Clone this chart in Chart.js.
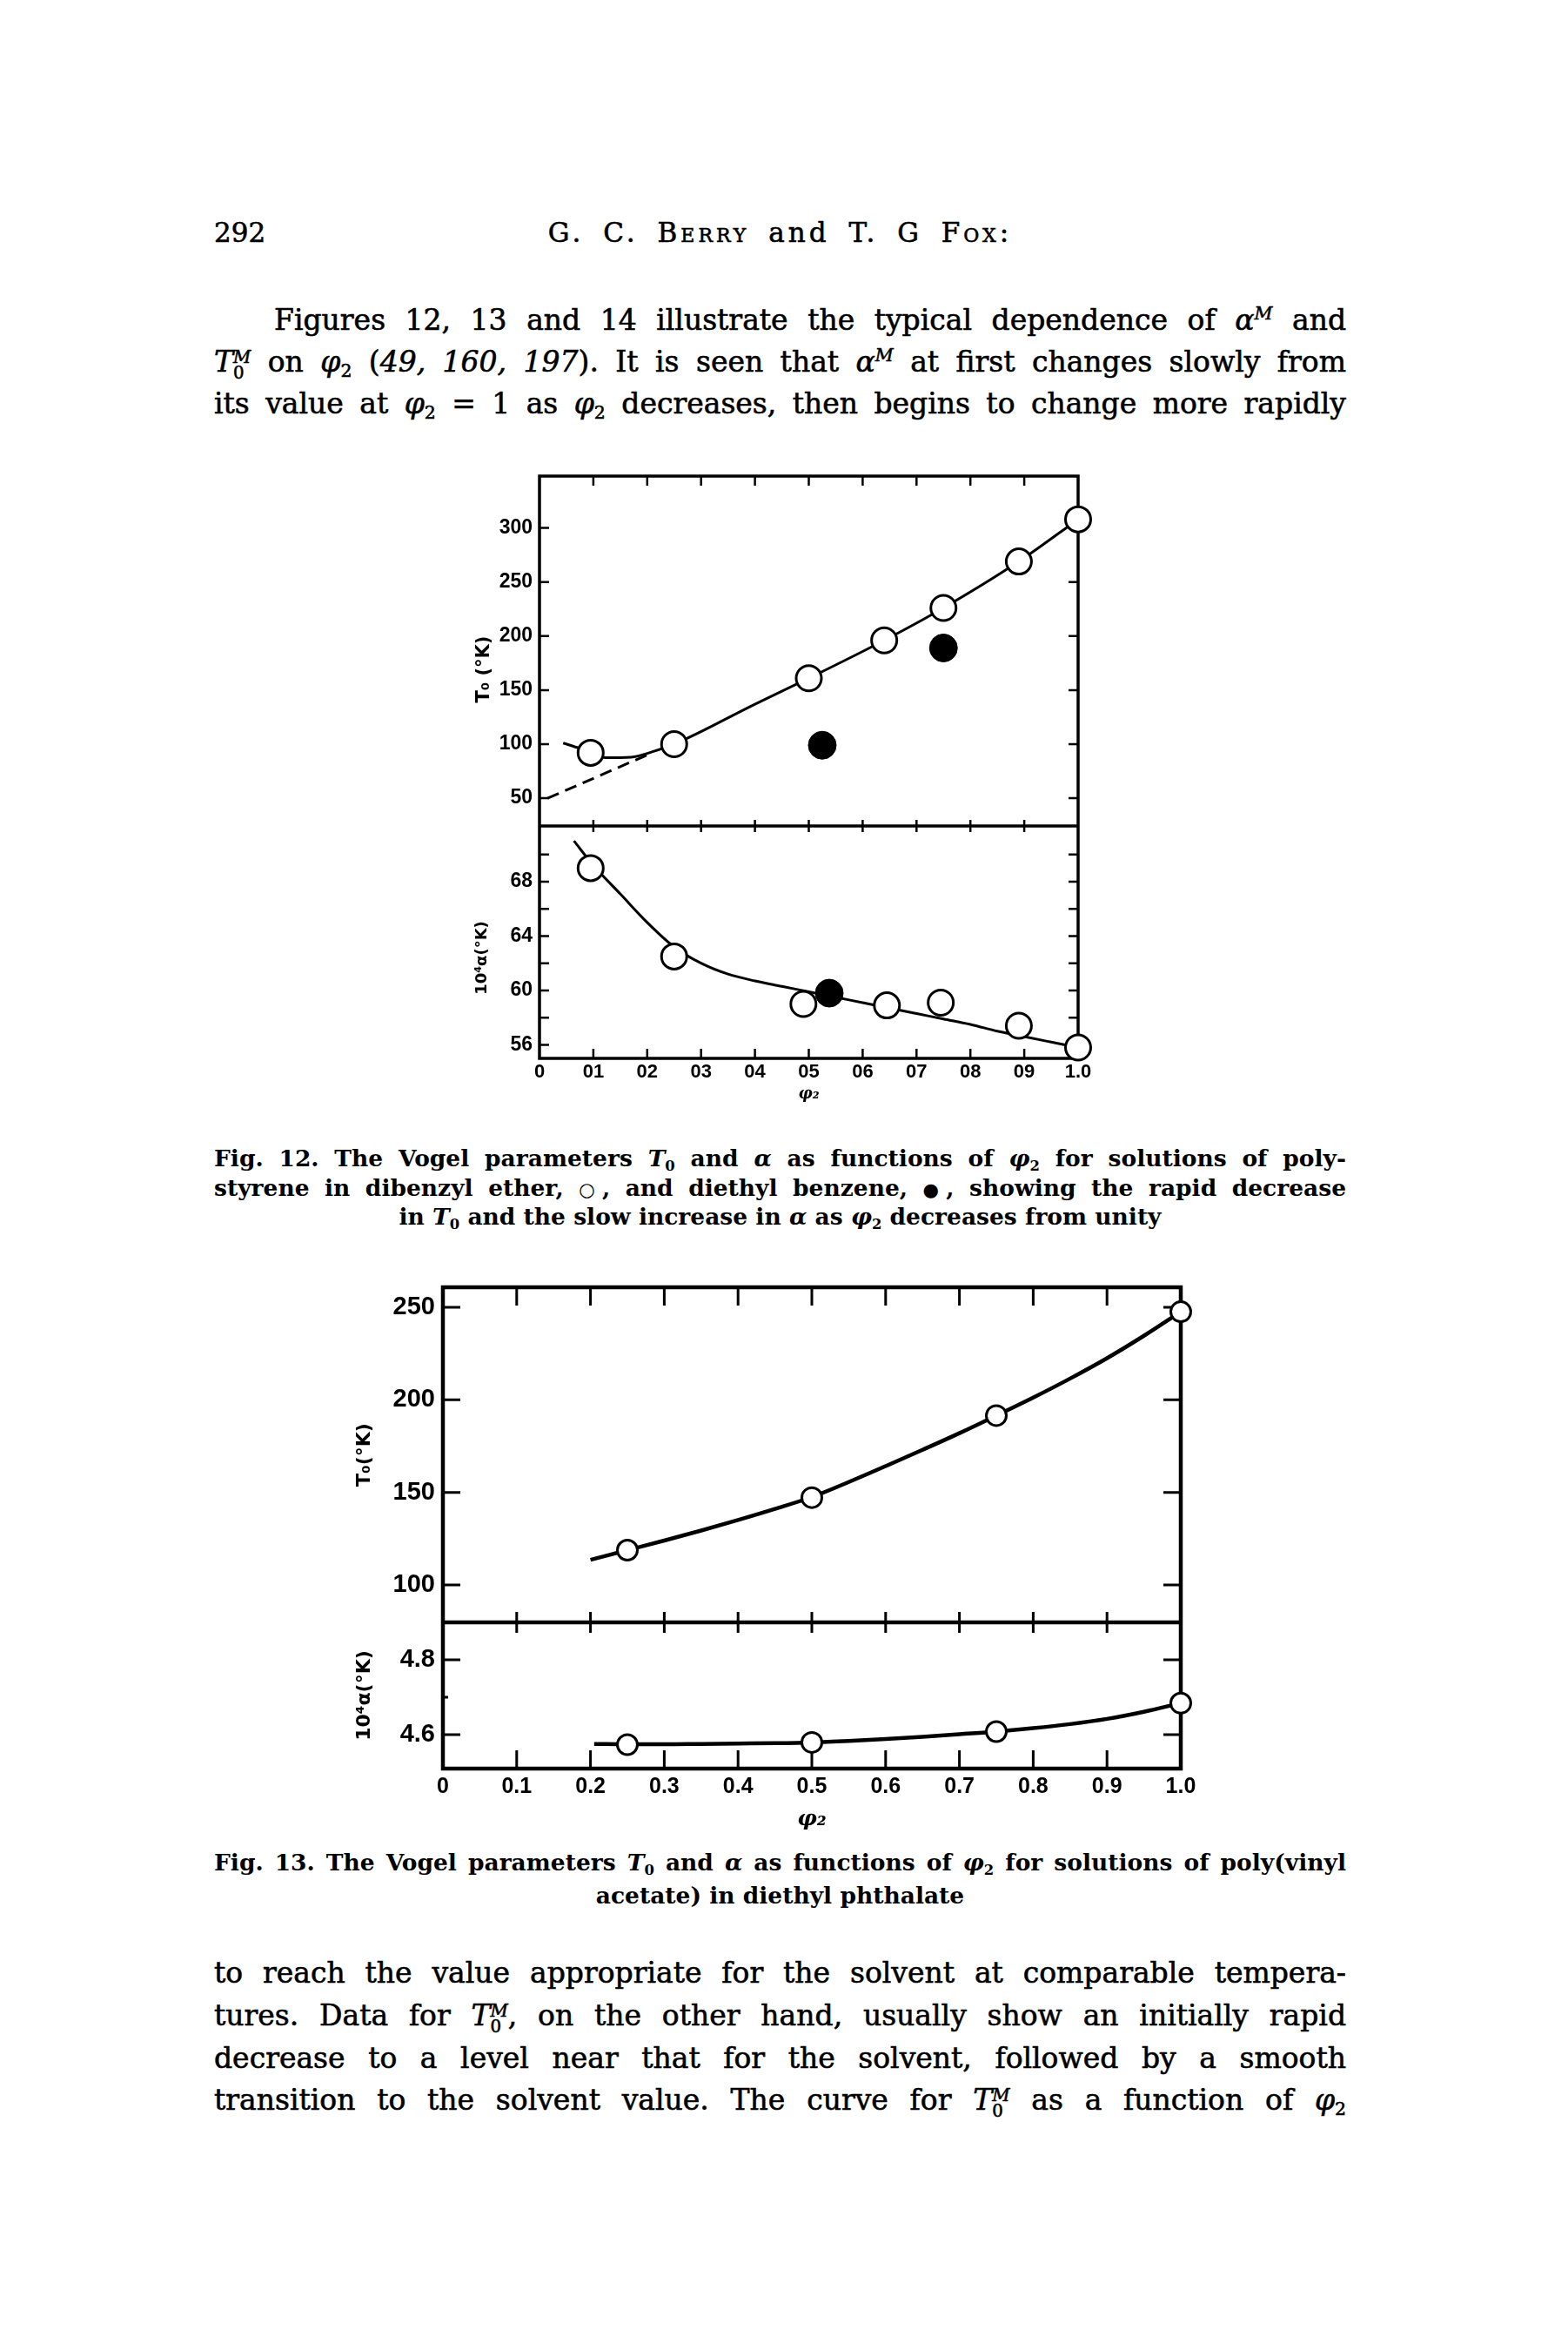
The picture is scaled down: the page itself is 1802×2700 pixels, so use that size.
<!DOCTYPE html>
<html>
<head>
<meta charset="utf-8">
<script src="https://cdn.jsdelivr.net/npm/chart.js@4.4.1/dist/chart.umd.min.js"></script>
<style>
  html, body { margin: 0; padding: 0; background: #fff; }
  #page { position: relative; width: 1802px; height: 2700px; overflow: hidden; color: #000; font-family: 'DejaVu Serif', serif; }
  .ln { position: absolute; left: 246px; width: 1301px; font-size: 33px; line-height: 42px; height: 42px; text-align: justify; text-align-last: justify; -webkit-text-stroke: 0.6px #000; }
  .cap { font-size: 26.5px; font-weight: bold; line-height: 34px; height: 34px; -webkit-text-stroke: 0; }
  .ctr { text-align: center; text-align-last: center; }
  .hdr { letter-spacing: 4px; word-spacing: 8px; }
  .sc { font-variant: small-caps; }
  .sym { font-family: 'DejaVu Sans', sans-serif; font-size: 0.8em; }
  sub { font-size: 0.62em; vertical-align: -0.3em; line-height: 0; }
  sup { font-size: 0.62em; vertical-align: 0.6em; line-height: 0; }
  .stk { display: inline-block; vertical-align: -0.42em; font-size: 0.6em; line-height: 0.95em; text-align: left; }
  .stk span { display: block; }
  canvas { position: absolute; }
</style>
</head>
<body>
<div id="page">
  <div class="ln" style="top:246px; font-size:31px; text-align:left; text-align-last:left;">292</div>
  <div class="ln ctr hdr" style="top:246px; font-size:31px;">G. C. B<span class="sc">erry</span> and T. G F<span class="sc">ox</span>:</div>

  <div class="ln" style="top:347px; left:315px; width:1232px;">Figures 12, 13 and 14 illustrate the typical dependence of <i>α</i><sup><i>M</i></sup> and</div>
  <div class="ln" style="top:395px;"><i>T</i><span class="stk"><span><i>M</i></span><span>0</span></span> on <i>φ</i><sub>2</sub> (<i>49, 160, 197</i>). It is seen that <i>α</i><sup><i>M</i></sup> at first changes slowly from</div>
  <div class="ln" style="top:443px;">its value at <i>φ</i><sub>2</sub> = 1 as <i>φ</i><sub>2</sub> decreases, then begins to change more rapidly</div>

  <canvas id="fig12" width="820" height="770" style="left:480px; top:520px; width:820px; height:770px;"></canvas>

  <div class="ln cap" style="top:1314px;">Fig. 12. The Vogel parameters <i>T</i><sub>0</sub> and <i>α</i> as functions of <i>φ</i><sub>2</sub> for solutions of poly-</div>
  <div class="ln cap" style="top:1348px;">styrene in dibenzyl ether, <span class="sym">○</span>, and diethyl benzene, <span class="sym">●</span>, showing the rapid decrease</div>
  <div class="ln cap ctr" style="top:1381px;">in <i>T</i><sub>0</sub> and the slow increase in <i>α</i> as <i>φ</i><sub>2</sub> decreases from unity</div>

  <canvas id="fig13" width="1040" height="660" style="left:360px; top:1450px; width:1040px; height:660px;"></canvas>

  <div class="ln cap" style="top:2123px;">Fig. 13. The Vogel parameters <i>T</i><sub>0</sub> and <i>α</i> as functions of <i>φ</i><sub>2</sub> for solutions of poly(vinyl</div>
  <div class="ln cap ctr" style="top:2161px;">acetate) in diethyl phthalate</div>

  <div class="ln" style="top:2246px;">to reach the value appropriate for the solvent at comparable tempera-</div>
  <div class="ln" style="top:2295px;">tures. Data for <i>T</i><span class="stk"><span><i>M</i></span><span>0</span></span>, on the other hand, usually show an initially rapid</div>
  <div class="ln" style="top:2344px;">decrease to a level near that for the solvent, followed by a smooth</div>
  <div class="ln" style="top:2392px;">transition to the solvent value. The curve for <i>T</i><span class="stk"><span><i>M</i></span><span>0</span></span> as a function of <i>φ</i><sub>2</sub></div>
</div>

<script>
// Fig. 12: polystyrene in dibenzyl ether (open) and diethyl benzene (filled)
const f12OpenPhi = [0.095, 0.25, 0.5, 0.64, 0.75, 0.89, 1.0];
const f12OpenT0 = [92, 100, 161, 196, 226, 269, 308];
const f12FilledPhi = [0.525, 0.75];
const f12FilledT0 = [99, 189];
const f12CurvePhi = [0.044, 0.075, 0.122, 0.17, 0.21, 0.25, 0.4, 0.5, 0.64, 0.75, 0.89, 1.0];
const f12CurveT0 = [101, 96, 87.5, 88, 93, 100, 137, 161, 196, 226, 269, 308];
const f12DashPhi = [0.015, 0.2];
const f12DashT0 = [50, 90];

const f12AlphaOpenPhi = [0.095, 0.25, 0.49, 0.645, 0.745, 0.89, 1.0];
const f12AlphaOpen = [69.0, 62.5, 59.0, 58.9, 59.1, 57.4, 55.8];
const f12AlphaFilledPhi = [0.538];
const f12AlphaFilled = [59.8];
const f12AlphaCurvePhi = [0.064, 0.1, 0.15, 0.2, 0.25, 0.3, 0.35, 0.4, 0.45, 0.5, 0.55, 0.6, 0.65, 0.7, 0.75, 0.8, 0.85, 0.9, 0.95, 1.0];
const f12AlphaCurve = [71.0, 69.2, 67.1, 65.0, 63.2, 62.0, 61.2, 60.7, 60.3, 59.9, 59.5, 59.1, 58.7, 58.3, 57.9, 57.5, 57.0, 56.6, 56.2, 55.8];

const f12XTicks = [0, 0.1, 0.2, 0.3, 0.4, 0.5, 0.6, 0.7, 0.8, 0.9, 1.0];
const f12XLabels = ["0", "01", "02", "03", "04", "05", "06", "07", "08", "09", "1.0"];
const f12T0Ticks = [50, 100, 150, 200, 250, 300];
const f12T0Labels = ["50", "100", "150", "200", "250", "300"];
const f12AlphaTicks = [56, 60, 64, 68];
const f12AlphaLabels = ["56", "60", "64", "68"];
const f12AlphaMarks = [56, 58, 60, 62, 64, 66, 68, 70];

// Fig. 13: poly(vinyl acetate) in diethyl phthalate
const f13Phi = [0.25, 0.5, 0.75, 1.0];
const f13T0 = [118.8, 147.2, 191.5, 247.6];
const f13Alpha = [4.573, 4.579, 4.608, 4.684];
const f13CurvePhi = [0.2, 0.25, 0.3, 0.35, 0.4, 0.45, 0.5, 0.55, 0.6, 0.65, 0.7, 0.75, 0.8, 0.85, 0.9, 0.95, 1.0];
const f13CurveT0 = [113.6, 118.8, 124.0, 129.4, 135.1, 141.1, 147.5, 155.6, 164.2, 173.0, 182.0, 191.5, 201.2, 211.5, 222.5, 234.6, 247.6];
const f13AlphaCurvePhi = [0.205, 0.25, 0.3, 0.35, 0.4, 0.45, 0.5, 0.55, 0.6, 0.65, 0.7, 0.75, 0.8, 0.85, 0.9, 0.95, 1.0];
const f13AlphaCurve = [4.575, 4.574, 4.574, 4.575, 4.576, 4.577, 4.579, 4.583, 4.588, 4.594, 4.601, 4.608, 4.617, 4.628, 4.642, 4.661, 4.684];

const f13XTicks = [0, 0.1, 0.2, 0.3, 0.4, 0.5, 0.6, 0.7, 0.8, 0.9, 1.0];
const f13XLabels = ["0", "0.1", "0.2", "0.3", "0.4", "0.5", "0.6", "0.7", "0.8", "0.9", "1.0"];
const f13T0Ticks = [100, 150, 200, 250];
const f13T0Labels = ["100", "150", "200", "250"];
const f13AlphaTicks = [4.6, 4.8];
const f13AlphaLabels = ["4.6", "4.8"];
const f13AlphaMinor = [4.7];

const innerMarks = [0.1, 0.2, 0.3, 0.4, 0.5, 0.6, 0.7, 0.8, 0.9];

function pts(xs, ys) {
  return xs.map((x, i) => ({ x: x, y: ys[i] }));
}

// frame, panel divider and the inward tick marks, placed with the chart's scales
function frameTicks(spec) {
  return {
    id: 'frameTicks',
    beforeDatasetsDraw(chart) {
      const ctx = chart.ctx;
      const a = chart.chartArea;
      const x = chart.scales.x, top = chart.scales.yTop, bot = chart.scales.yBot;
      const mid = top.bottom;
      ctx.save();
      ctx.strokeStyle = '#000';
      ctx.lineWidth = spec.frameWidth;
      ctx.strokeRect(a.left, a.top, a.right - a.left, a.bottom - a.top);
      ctx.beginPath();
      ctx.moveTo(a.left, mid);
      ctx.lineTo(a.right, mid);
      ctx.stroke();

      ctx.lineWidth = spec.tickWidth;
      ctx.beginPath();
      innerMarks.forEach(v => {
        const px = x.getPixelForValue(v);
        ctx.moveTo(px, a.top); ctx.lineTo(px, a.top + spec.edgeLen);
        ctx.moveTo(px, mid - spec.midLen); ctx.lineTo(px, mid + spec.midLen);
        ctx.moveTo(px, a.bottom); ctx.lineTo(px, a.bottom - spec.edgeLen);
      });
      const side = (scale, marks, len) => marks.forEach(v => {
        const py = scale.getPixelForValue(v);
        ctx.moveTo(a.left, py); ctx.lineTo(a.left + len, py);
        ctx.moveTo(a.right, py); ctx.lineTo(a.right - len, py);
      });
      side(top, spec.topMarks, spec.sideLen);
      side(bot, spec.botMarks, spec.sideLen);
      if (spec.botMinor) side(bot, spec.botMinor, spec.minorLen);
      ctx.stroke();
      ctx.restore();
    }
  };
}

function yScale(f, which) {
  const p = f[which];
  return {
    type: 'linear',
    axis: 'y',
    position: 'left',
    stack: 'panels',
    stackWeight: p.weight,
    weight: which === 'top' ? 1 : 0,
    min: p.min,
    max: p.max,
    grid: { display: false, drawTicks: false },
    border: { display: false },
    afterBuildTicks: s => { s.ticks = p.ticks.map(v => ({ value: v })); },
    afterFit: s => { s.width = f.yWidth; },
    ticks: {
      autoSkip: false,
      padding: f.yPad,
      color: '#000',
      font: f.yFont,
      callback: (v, i) => p.labels[i]
    },
    title: {
      display: true,
      text: p.title,
      color: '#000',
      font: p.titleFont || f.yTitleFont,
      padding: { top: f.yTitlePad, bottom: 0 }
    }
  };
}

function makeFigure(id, f) {
  const ctx = document.getElementById(id).getContext('2d');
  return new Chart(ctx, {
    type: 'scatter',
    data: { datasets: f.datasets },
    options: {
      responsive: false,
      animation: false,
      layout: { padding: f.padding },
      plugins: { legend: { display: false }, tooltip: { enabled: false } },
      scales: {
        x: {
          type: 'linear',
          position: 'bottom',
          min: 0,
          max: 1,
          grid: { display: false, drawTicks: false },
          border: { display: false },
          afterBuildTicks: s => { s.ticks = f.xTicks.map(v => ({ value: v })); },
          afterFit: s => { s.height = f.xHeight; },
          ticks: {
            autoSkip: false,
            maxRotation: 0,
            padding: f.xPad,
            color: '#000',
            font: f.xFont,
            callback: (v, i) => f.xLabels[i]
          },
          title: {
            display: true,
            text: 'φ₂',
            color: '#000',
            font: f.phiFont,
            padding: { top: 0, bottom: f.phiPad }
          }
        },
        yTop: yScale(f, 'top'),
        yBot: yScale(f, 'bot')
      }
    },
    plugins: [frameTicks(f.frame)]
  });
}

function openPts(data, axis, r, bw) {
  return { data: data, yAxisID: axis, showLine: false, clip: false, pointRadius: r, pointBorderWidth: bw,
           pointBackgroundColor: '#fff', pointBorderColor: '#000' };
}
function filledPts(data, axis, r) {
  return { data: data, yAxisID: axis, showLine: false, clip: false, pointRadius: r, pointBorderWidth: 1,
           pointBackgroundColor: '#000', pointBorderColor: '#000' };
}
function curve(data, axis, w, dash) {
  return { data: data, yAxisID: axis, showLine: true, clip: false, pointRadius: 0, borderColor: '#000',
           borderWidth: w, borderDash: dash || [], cubicInterpolationMode: 'monotone', fill: false };
}

document.addEventListener("DOMContentLoaded", () => {
  const sansBold = size => ({ family: 'Liberation Sans', size: size, weight: 'bold' });

  makeFigure('fig12', {
    padding: { top: 27, right: 61, bottom: 0, left: 0 },
    yWidth: 140, yPad: 8, yFont: sansBold(23),
    yTitleFont: { family: 'DejaVu Sans', size: 18, weight: 'bold' }, yTitlePad: 64,
    xHeight: 74, xPad: 3, xFont: sansBold(22),
    phiFont: { family: 'DejaVu Serif', size: 18, style: 'italic', weight: 'bold' }, phiPad: 22,
    xTicks: f12XTicks, xLabels: f12XLabels,
    // trailing em spaces push the rotated titles a little lower, as in the print
    top: { weight: 402, min: 24.3, max: 348, ticks: f12T0Ticks, labels: f12T0Labels, title: 'T₀ (°K)\u2003\u2003',
           titleFont: { family: 'DejaVu Sans', size: 21, weight: 'bold' } },
    bot: { weight: 267, min: 55.0, max: 72.1, ticks: f12AlphaTicks, labels: f12AlphaLabels, title: '10⁴α(°K)\u2003\u2003' },
    frame: { frameWidth: 3.5, tickWidth: 2.5, edgeLen: 11, midLen: 7, sideLen: 11,
             topMarks: f12T0Ticks, botMarks: f12AlphaMarks },
    datasets: [
      filledPts(pts(f12FilledPhi, f12FilledT0), 'yTop', 16),
      filledPts(pts(f12AlphaFilledPhi, f12AlphaFilled), 'yBot', 16),
      openPts(pts(f12OpenPhi, f12OpenT0), 'yTop', 14.5, 3),
      openPts(pts(f12AlphaOpenPhi, f12AlphaOpen), 'yBot', 14.5, 3),
      curve(pts(f12CurvePhi, f12CurveT0), 'yTop', 3),
      curve(pts(f12DashPhi, f12DashT0), 'yTop', 3, [14, 8]),
      curve(pts(f12AlphaCurvePhi, f12AlphaCurve), 'yBot', 3)
    ]
  });

  makeFigure('fig13', {
    padding: { top: 29, right: 43, bottom: 0, left: 0 },
    yWidth: 149, yPad: 9, yFont: sansBold(29),
    yTitleFont: { family: 'DejaVu Sans', size: 22, weight: 'bold' }, yTitlePad: 46,
    xHeight: 78, xPad: 6, xFont: sansBold(25),
    phiFont: { family: 'DejaVu Serif', size: 25, style: 'italic', weight: 'bold' }, phiPad: 5,
    xTicks: f13XTicks, xLabels: f13XLabels,
    top: { weight: 385, min: 79.8, max: 260.8, ticks: f13T0Ticks, labels: f13T0Labels, title: 'T₀(°K)' },
    bot: { weight: 168, min: 4.509, max: 4.9, ticks: f13AlphaTicks, labels: f13AlphaLabels, title: '10⁴α(°K)' },
    frame: { frameWidth: 4.5, tickWidth: 3, edgeLen: 21, midLen: 12, sideLen: 20, minorLen: 6,
             topMarks: f13T0Ticks, botMarks: f13AlphaTicks, botMinor: f13AlphaMinor },
    datasets: [
      openPts(pts(f13Phi, f13T0), 'yTop', 11.5, 3),
      openPts(pts(f13Phi, f13Alpha), 'yBot', 11.5, 3),
      curve(pts(f13CurvePhi, f13CurveT0), 'yTop', 4.5),
      curve(pts(f13AlphaCurvePhi, f13AlphaCurve), 'yBot', 4.5)
    ]
  });
});
</script>
</body>
</html>
